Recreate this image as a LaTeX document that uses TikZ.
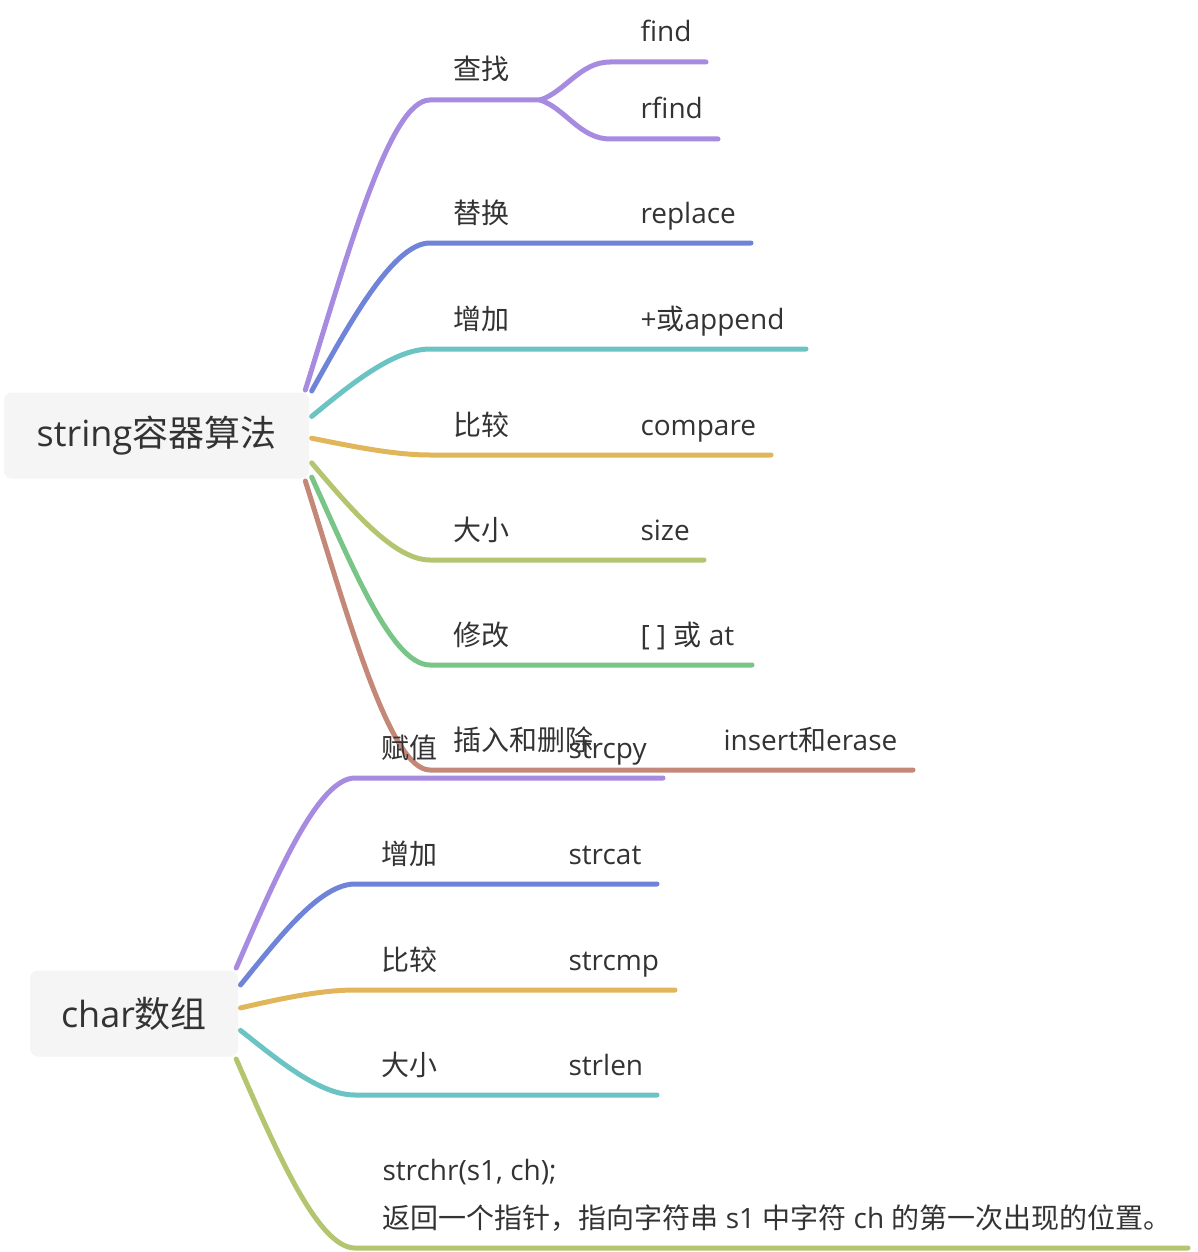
\documentclass[tikz,border=0pt]{standalone}
\usepackage{fontspec}
\setmainfont{Open Sans}
\newfontfamily\cjk{Noto Sans CJK SC}
\definecolor{mpurple}{HTML}{A78BE0}
\definecolor{mblue}{HTML}{6F84D8}
\definecolor{mteal}{HTML}{6CC3C4}
\definecolor{myellow}{HTML}{E1B65A}
\definecolor{mlime}{HTML}{B3C66F}
\definecolor{mgreen}{HTML}{79C487}
\definecolor{mbrown}{HTML}{C48878}
\definecolor{rootgray}{HTML}{F5F5F5}
\definecolor{txtgray}{HTML}{333333}

\begin{document}
\begin{tikzpicture}[x=0.75pt, y=-0.75pt, line width=3.75pt, line cap=round, text=txtgray, font=\fontsize{21pt}{36pt}\selectfont,
		lbl/.style={anchor=base west, inner sep=0pt},
		root/.style={fill=rootgray, rounded corners=6pt, inner sep=0pt, minimum height=64.5pt, font=\fontsize{27pt}{32pt}\selectfont}]
		\useasboundingbox (0,0) rectangle (1198,1252);
		\node[root, minimum width=229pt] (str) at (156.5,435.5) {string{\cjk 容器算法}};
		\node[root, minimum width=156pt] (chr) at (134,1013.5) {char{\cjk 数组}};

		\coordinate (a1) at (430,100);
		\coordinate (a1f) at (540,100);
		\coordinate (find1) at (610,62);
		\coordinate (find2) at (706,62);
		\coordinate (rfind1) at (610,139);
		\coordinate (rfind2) at (718,139);
		\coordinate (a2) at (430,243);
		\coordinate (a2e) at (751,243);
		\coordinate (a3) at (430,349);
		\coordinate (a3e) at (806,349);
		\coordinate (a4) at (430,455);
		\coordinate (a4e) at (771,455);
		\coordinate (a5) at (430,560);
		\coordinate (a5e) at (704,560);
		\coordinate (a6) at (430,665);
		\coordinate (a6e) at (752,665);
		\coordinate (a7) at (430,770);
		\coordinate (a7e) at (913,770);

		\coordinate (b1) at (355,778);
		\coordinate (b1e) at (663,778);
		\coordinate (b2) at (355,884);
		\coordinate (b2e) at (657,884);
		\coordinate (b3) at (355,990);
		\coordinate (b3e) at (675,990);
		\coordinate (b4) at (355,1095);
		\coordinate (b4e) at (657,1095);
		\coordinate (b5) at (355,1248);
		\coordinate (b5e) at (1188,1248);

		\draw[mpurple] (str.17) .. controls +(44,-141) and +(-40,0) .. (a1) -- (a1f);
		\draw[mpurple] (a1f) .. controls +(25,-8) and +(-30,0) .. (find1) -- (find2);
		\draw[mpurple] (a1f) .. controls +(25,8) and +(-30,0) .. (rfind1) -- (rfind2);
		\draw[mblue] (str.16) .. controls +(40,-72) and +(-36,0) .. (a2) -- (a2e);
		\draw[mteal] (str.7) .. controls +(40,-33) and +(-36,0) .. (a3) -- (a3e);
		\draw[myellow] (str.-1) .. controls +(40,8) and +(-36,0) .. (a4) -- (a4e);
		\draw[mlime] (str.-10) .. controls +(40,47) and +(-36,0) .. (a5) -- (a5e);
		\draw[mgreen] (str.-15) .. controls +(41,90) and +(-38,0) .. (a6) -- (a6e);
		\draw[mbrown] (str.-17) .. controls +(44,140) and +(-40,0) .. (a7) -- (a7e);

		\draw[mpurple] (chr.24) .. controls +(40,-92) and +(-37,0) .. (b1) -- (b1e);
		\draw[mblue] (chr.15) .. controls +(39,-48) and +(-35,0) .. (b2) -- (b2e);
		\draw[myellow] (chr.3) .. controls +(39,-9) and +(-35,0) .. (b3) -- (b3e);
		\draw[mteal] (chr.-9) .. controls +(39,31) and +(-35,0) .. (b4) -- (b4e);
		\draw[mlime] (chr.-24) .. controls +(40,92) and +(-37,0) .. (b5) -- (b5e);

		\node[lbl] (cz) at (451,80) {\cjk 查找};
		\node[lbl] (find) at (638,42) {find};
		\node[lbl] (rfind) at (638,119) {rfind};
		\node[lbl] (th) at (451,223) {\cjk 替换};
		\node[lbl] (rep) at (638,223) {replace};
		\node[lbl] (zj) at (451,329) {\cjk 增加};
		\node[lbl] (app) at (638,329) {+{\cjk 或}append};
		\node[lbl] (bj) at (451,435) {\cjk 比较};
		\node[lbl] (cmp) at (638,435) {compare};
		\node[lbl] (dx) at (451,540) {\cjk 大小};
		\node[lbl] (size) at (638,540) {size};
		\node[lbl] (xg) at (451,645) {\cjk 修改};
		\node[lbl] (idx) at (638,645) {[ ] {\cjk 或} at};
		\node[lbl] (cr) at (451,750) {\cjk 插入和删除};
		\node[lbl] (ins) at (721,750) {insert{\cjk 和}erase};

		\node[lbl] (fz) at (379,758) {\cjk 赋值};
		\node[lbl] (cpy) at (566,758) {strcpy};
		\node[lbl] (zj2) at (379,864) {\cjk 增加};
		\node[lbl] (cat) at (566,864) {strcat};
		\node[lbl] (bj2) at (379,970) {\cjk 比较};
		\node[lbl] (cmp2) at (566,970) {strcmp};
		\node[lbl] (dx2) at (379,1075) {\cjk 大小};
		\node[lbl] (len) at (566,1075) {strlen};
		\node[lbl, align=left] (chrfn) at (380,1228) {strchr(s1, ch);\\{\cjk 返回一个指针，指向字符串} s1 {\cjk 中字符} ch {\cjk 的第一次出现的位置。}};
	\end{tikzpicture}
\end{document}
